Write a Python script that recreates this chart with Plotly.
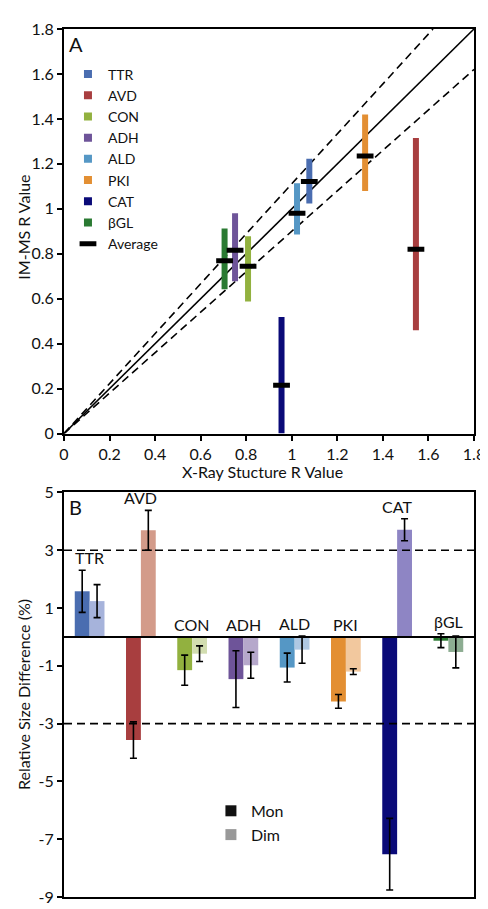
import plotly.graph_objects as go

# ---------------- data ----------------
proteins = ["TTR", "AVD", "CON", "ADH", "ALD", "PKI", "CAT", "βGL"]
colors = ["#4A6DB0", "#A83E3F", "#92B13F", "#6E5499", "#5597C5", "#E38F33", "#0A0A78", "#2A7A32"]
light_colors = ["#A6B3DB", "#D39B8A", "#D2DDB0", "#B6A8CB", "#AFC8E3", "#F2C89E", "#8E85C4", "#8DAD92"]

# Panel A
xray_r = [1.077, 1.545, 0.808, 0.751, 1.023, 1.322, 0.955, 0.705]
imms_avg = [1.121, 0.82, 0.744, 0.816, 0.98, 1.235, 0.215, 0.769]
imms_low = [1.024, 0.46, 0.587, 0.678, 0.886, 1.079, 0.0, 0.642]
imms_high = [1.223, 1.315, 0.878, 0.98, 1.114, 1.42, 0.518, 0.912]
ref_x = [0, 1.8]
tolerance = 0.1

# Panel B
mon = [1.58, -3.57, -1.15, -1.46, -1.06, -2.23, -7.52, -0.13]
mon_err = [0.73, 0.63, 0.52, 0.98, 0.50, 0.24, 1.24, 0.24]
dim = [1.24, 3.69, -0.58, -0.98, -0.44, -1.20, 3.71, -0.52]
dim_err = [0.57, 0.69, 0.27, 0.45, 0.47, 0.10, 0.38, 0.55]
threshold = 3

FONT = "Lato"
W, H = 488, 909
ML, MR, MT, MB = 56, 19, 14, 11
PW = W - ML - MR
PH = H - MT - MB


def py(pix):
    return (H - MB - pix) / PH


def px(pix):
    return (pix - ML) / PW


fig = go.Figure()

# ---- Panel A lines ----
fig.add_trace(go.Scatter(x=ref_x, y=ref_x, mode="lines", line=dict(color="black", width=1.6),
                         showlegend=False, xaxis="x", yaxis="y", hoverinfo="skip"))
hi = 1 / (1 - tolerance)
fig.add_trace(go.Scatter(x=[0, ref_x[1] / hi], y=[0, ref_x[1]], mode="lines",
                         line=dict(color="black", width=1.6, dash="8px,5px"),
                         showlegend=False, xaxis="x", yaxis="y", hoverinfo="skip"))
fig.add_trace(go.Scatter(x=ref_x, y=[0, ref_x[1] * (1 - tolerance)], mode="lines",
                         line=dict(color="black", width=1.6, dash="8px,5px"),
                         showlegend=False, xaxis="x", yaxis="y", hoverinfo="skip"))

for i, p in enumerate(proteins):
    fig.add_trace(go.Scatter(x=[xray_r[i], xray_r[i]], y=[imms_low[i], imms_high[i]], mode="lines",
                             line=dict(color=colors[i], width=6), showlegend=False,
                             xaxis="x", yaxis="y"))
    fig.add_trace(go.Scatter(x=[None], y=[None], mode="markers", name=p,
                             marker=dict(symbol="square", size=8, color=colors[i]),
                             legend="legend", xaxis="x", yaxis="y"))

fig.add_trace(go.Scatter(x=xray_r, y=imms_avg, mode="markers", name="Average",
                         marker=dict(symbol="line-ew", size=12, line=dict(width=5, color="black")),
                         legend="legend", xaxis="x", yaxis="y"))

# ---- Panel B bars ----
fig.add_trace(go.Bar(x=proteins, y=mon, marker=dict(color=colors, line=dict(width=0)),
                     error_y=dict(type="data", array=mon_err, color="black", thickness=1.6, width=3.5),
                     offsetgroup="mon", showlegend=False, xaxis="x2", yaxis="y2"))
fig.add_trace(go.Bar(x=proteins, y=dim, marker=dict(color=light_colors, line=dict(width=0)),
                     error_y=dict(type="data", array=dim_err, color="black", thickness=1.6, width=3.5),
                     offsetgroup="dim", showlegend=False, xaxis="x2", yaxis="y2"))

fig.add_trace(go.Scatter(x=[None], y=[None], mode="markers", name="Mon",
                         marker=dict(symbol="square", size=11, color="#111111"),
                         legend="legend2", xaxis="x2", yaxis="y2"))
fig.add_trace(go.Scatter(x=[None], y=[None], mode="markers", name="Dim",
                         marker=dict(symbol="square", size=11, color="#999999"),
                         legend="legend2", xaxis="x2", yaxis="y2"))

annotations = []
for i, p in enumerate(proteins):
    top = max(0, mon[i] + mon_err[i], dim[i] + dim_err[i])
    annotations.append(dict(x=p, y=top, xref="x2", yref="y2", text=p, showarrow=False,
                            xanchor="center", yanchor="bottom", yshift=1,
                            font=dict(family=FONT, size=16, color="#111")))


def ann(xp, yp, text, size=16, angle=0):
    return dict(xref="paper", yref="paper", x=px(xp), y=py(yp), text=text, showarrow=False,
                xanchor="center", yanchor="middle", textangle=angle,
                font=dict(family=FONT, size=size, color="#111"))


annotations += [
    ann(68, 29, "A", 20),
    ann(68, 501, "B", 20),
    ann(15, 216, "IM-MS R Value", 16, -90),
    ann(256, 465, "X-Ray Stucture R Value", 16),
    ann(15, 692, "Relative Size Difference (%)", 16, -90),
]

axis_common = dict(showline=True, linecolor="black", linewidth=2, mirror=True, showgrid=False,
                   zeroline=False, tickfont=dict(family=FONT, size=16, color="#111"))

fig.update_layout(
    width=W, height=H,
    margin=dict(l=ML, r=MR, t=MT, b=MB),
    paper_bgcolor="white", plot_bgcolor="white",
    barmode="group", bargap=0.42, bargroupgap=0,
    xaxis=dict(domain=[0, 1], anchor="y", range=[0, 1.8], dtick=0.2, tick0=0,
               ticks="outside", ticklen=5, tickwidth=1.5, tickcolor="black", **axis_common),
    yaxis=dict(domain=[py(426), 1], anchor="x", range=[0, 1.8], dtick=0.2, tick0=0,
               ticks="outside", ticklen=5, tickwidth=1.5, tickcolor="black", **axis_common),
    xaxis2=dict(domain=[0, 1], anchor="y2", range=[-0.5, 7.5], showticklabels=False,
                ticks="", **axis_common),
    yaxis2=dict(domain=[0, py(486)], anchor="x2", range=[-9, 5],
                tickvals=[5, 3, 1, -1, -3, -5, -7, -9],
                ticktext=["5", "3", "1", "-1", "-3", "-5", "-7", "-9"],
                ticks="outside", ticklen=5, tickwidth=1.5, tickcolor="black", **axis_common),
    legend=dict(x=px(60), y=py(44), xanchor="left", yanchor="top", bgcolor="rgba(0,0,0,0)",
                font=dict(family=FONT, size=14, color="#111"), itemwidth=30, tracegroupgap=0),
    legend2=dict(x=px(204), y=py(793), xanchor="left", yanchor="top", bgcolor="rgba(0,0,0,0)",
                 font=dict(family=FONT, size=16, color="#111"), itemwidth=30, tracegroupgap=0),
    annotations=annotations,
    shapes=[
        dict(type="line", xref="x2 domain", yref="y2", x0=0, x1=1, y0=0, y1=0,
             line=dict(color="black", width=2)),
        dict(type="line", xref="x2 domain", yref="y2", x0=0, x1=1, y0=threshold, y1=threshold,
             line=dict(color="black", width=1.6, dash="8px,5px")),
        dict(type="line", xref="x2 domain", yref="y2", x0=0, x1=1, y0=-threshold, y1=-threshold,
             line=dict(color="black", width=1.6, dash="8px,5px")),
    ],
    showlegend=True,
)

fig.write_html("out.html")
